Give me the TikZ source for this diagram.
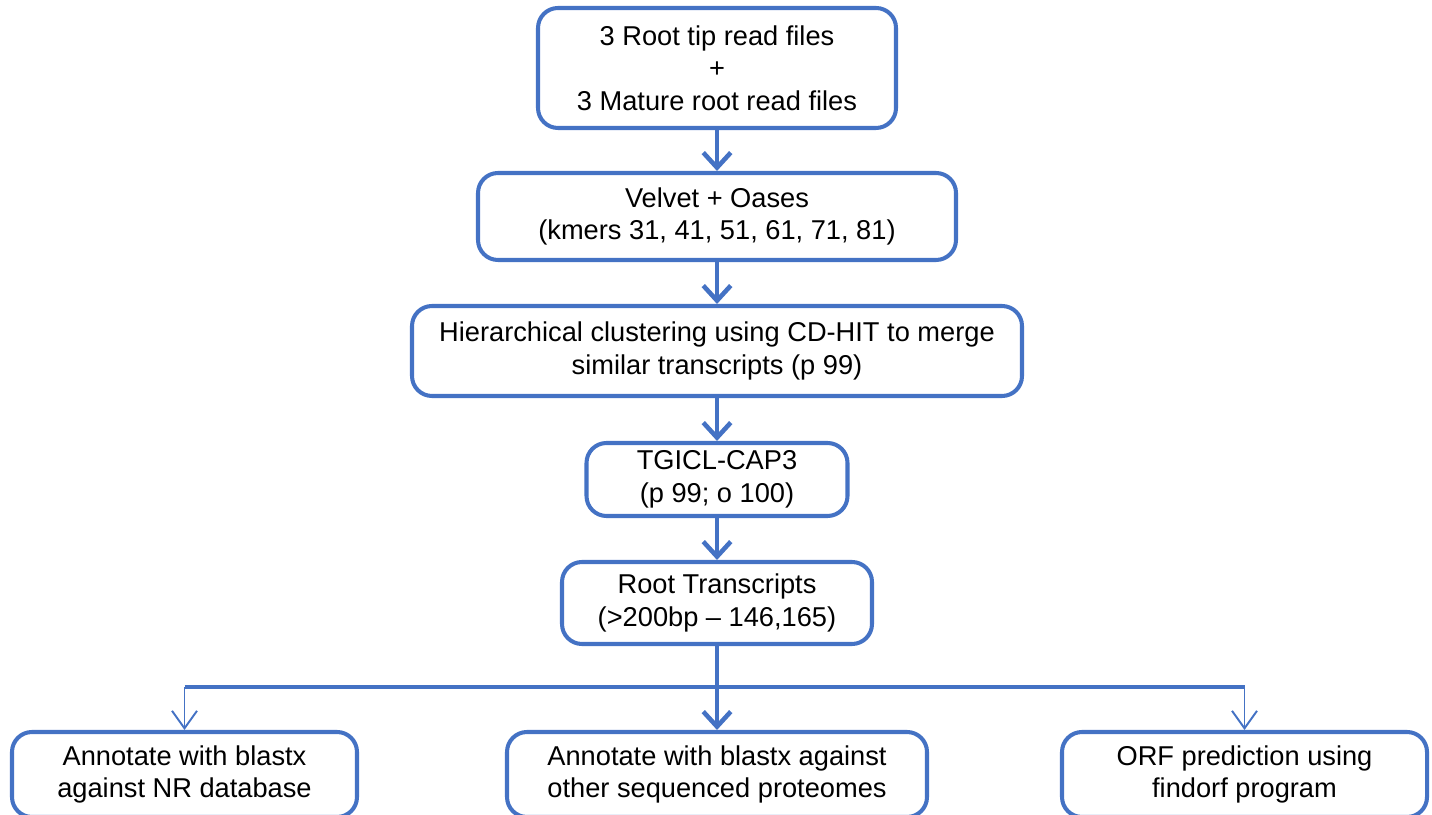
\documentclass[tikz,border=0pt]{standalone}
\usepackage{fontspec}
\setmainfont{Liberation Sans}
\usetikzlibrary{arrows.meta}

\begin{document}
\begin{tikzpicture}[
    stepBox/.style={draw=lineColour, line width=2.3pt, rounded corners=0.4cm,
        align=center, inner sep=0pt, font=\fontsize{15.5}{18.5}\selectfont},
    mainArrow/.style={draw=lineColour, line width=2.6pt,
        -{Straight Barb[length=0.3cm, width=0.55cm, line width=2.6pt]}},
    sideArrow/.style={draw=lineColour, line width=1.1pt,
        -{Straight Barb[length=0.35cm, width=0.5cm, line width=1.1pt]}}
]
    \definecolor{lineColour}{HTML}{4472C4}

    \useasboundingbox (0,0) rectangle (28.64,16.28);

    \def\midX{14.34}

    % main column
    \node[stepBox, minimum width=7.16cm, minimum height=2.4cm] (reads) at (\midX,14.92)
        {3 Root tip read files\\+\\3 Mature root read files};
    \node[stepBox, minimum width=9.56cm, minimum height=1.74cm] (velvet) at (\midX,11.95)
        {Velvet + Oases\\(kmers 31, 41, 51, 61, 71, 81)};
    \node[stepBox, minimum width=12.2cm, minimum height=1.8cm] (cdhit) at (\midX,9.26)
        {Hierarchical clustering using CD-HIT to merge\\similar transcripts (p 99)};
    \node[stepBox, minimum width=5.22cm, minimum height=1.46cm] (tgicl) at (\midX,6.69)
        {TGICL-CAP3\\(p 99; o 100)};
    \node[stepBox, minimum width=6.2cm, minimum height=1.64cm] (transcripts) at (\midX,4.22)
        {Root Transcripts\\(>200bp – 146,165)};

    % bottom row
    \node[stepBox, minimum width=6.9cm, minimum height=1.7cm] (blastNR) at (3.69,0.79)
        {Annotate with blastx\\against NR database};
    \node[stepBox, minimum width=8.4cm, minimum height=1.7cm] (blastProt) at (\midX,0.79)
        {Annotate with blastx against\\other sequenced proteomes};
    \node[stepBox, minimum width=7.3cm, minimum height=1.7cm] (orf) at (24.89,0.79)
        {ORF prediction using\\findorf program};

    \draw[mainArrow] (reads) -- (velvet);
    \draw[mainArrow] (velvet) -- (cdhit);
    \draw[mainArrow] (cdhit) -- (tgicl);
    \draw[mainArrow] (tgicl) -- (transcripts);
    \draw[mainArrow] (transcripts) -- (blastProt);

    \coordinate (splitL) at (blastNR.north |- 0,2.54);
    \coordinate (splitR) at (orf.north |- 0,2.54);

    \draw[draw=lineColour, line width=2.3pt] (splitL) -- (splitR);
    \draw[sideArrow] (splitL) -- (blastNR.north);
    \draw[sideArrow] (splitR) -- (orf.north);

\end{tikzpicture}
\end{document}
